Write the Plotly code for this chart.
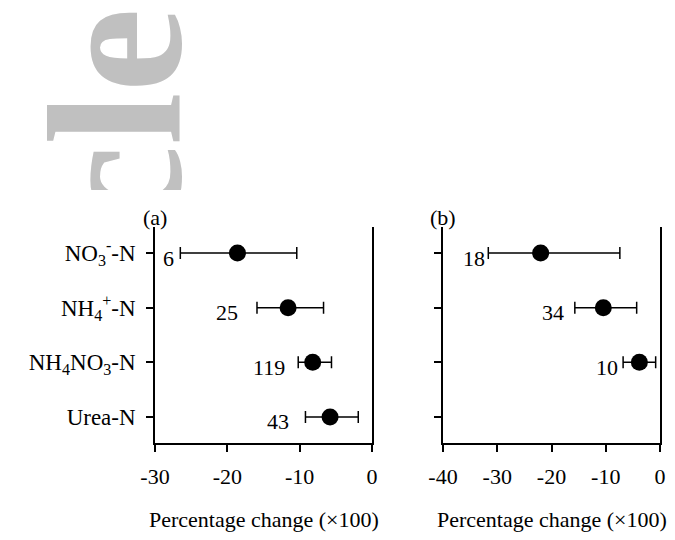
import plotly.graph_objects as go

categories = ["NO<sub>3</sub><sup>-</sup>-N", "NH<sub>4</sub><sup>+</sup>-N",
              "NH<sub>4</sub>NO<sub>3</sub>-N", "Urea-N"]

# Panel (a)
a_mean = [-18.6, -11.6, -8.2, -5.8]
a_low = [-26.5, -15.9, -10.2, -9.2]
a_high = [-10.4, -6.7, -5.6, -1.9]
a_n = ["6", "25", "119", "43"]
a_n_x = [-28.2, -20.1, -14.3, -12.95]

# Panel (b)
b_mean = [-22.0, -10.45, -3.8]
b_low = [-31.65, -15.7, -6.8]
b_high = [-7.4, -4.3, -0.8]
b_n = ["18", "34", "10"]
b_n_x = [-34.3, -19.8, -9.7]

a_ticks = [-30, -20, -10, 0]
b_ticks = [-40, -30, -20, -10, 0]
a_ticktext = ["-30", "-20", "-10", "0"]
b_ticktext = ["-40", "-30", "-20", "-10", "0"]

FONT = "Liberation Serif"
rows = list(range(len(categories)))

fig = go.Figure()

def add_panel(mean, low, high, xa, ya):
    ys = rows[:len(mean)]
    fig.add_trace(go.Scatter(
        x=mean, y=ys, mode="markers",
        marker=dict(size=17, color="black"),
        error_x=dict(type="data", symmetric=False,
                     array=[h - m for h, m in zip(high, mean)],
                     arrayminus=[m - l for m, l in zip(mean, low)],
                     color="black", thickness=1.5, width=6),
        xaxis=xa, yaxis=ya, showlegend=False, hoverinfo="skip"))

add_panel(a_mean, a_low, a_high, "x", "y")
add_panel(b_mean, b_low, b_high, "x2", "y2")

annotations = []
for txt, xv, r in zip(a_n, a_n_x, rows):
    annotations.append(dict(x=xv, y=r, xref="x", yref="y", text=txt, showarrow=False,
                            yshift=-5, font=dict(family=FONT, size=22, color="black")))
for txt, xv, r in zip(b_n, b_n_x, rows):
    annotations.append(dict(x=xv, y=r, xref="x2", yref="y2", text=txt, showarrow=False,
                            yshift=-5, font=dict(family=FONT, size=22, color="black")))

# panel letters
for txt, xp in [("(a)", 155 / 675), ("(b)", 443 / 675)]:
    annotations.append(dict(x=xp, y=1 - 218 / 540, xref="paper", yref="paper", text=txt,
                            showarrow=False, xanchor="center", yanchor="middle",
                            font=dict(family=FONT, size=22, color="black")))
# axis titles
for xp in [(155 + 372) / 2 / 675, (443 + 660) / 2 / 675]:
    annotations.append(dict(x=xp, y=1 - 519 / 540, xref="paper", yref="paper",
                            text="Percentage change (×100)", showarrow=False,
                            xanchor="center", yanchor="middle",
                            font=dict(family=FONT, size=22, color="black")))

# watermark
annotations.append(dict(x=268 / 675, y=1 - 6 / 540, xref="paper", yref="paper",
                        text="<b>cle</b>", textangle=-90, showarrow=False,
                        xanchor="right", yanchor="top", align="right",
                        width=182, height=300,
                        font=dict(family=FONT, size=190, color="#c0c0c0")))

yrange = [3.476, -0.476]
axis_common = dict(showline=True, linecolor="black", linewidth=1.6, ticks="outside",
                   ticklen=7, tickwidth=1.6, tickcolor="black", showgrid=False,
                   zeroline=False, automargin=False,
                   tickfont=dict(family=FONT, size=22, color="black"))

fig.update_layout(
    template="none",
    width=675, height=540, margin=dict(l=0, r=0, t=0, b=0, autoexpand=False),
    paper_bgcolor="white", plot_bgcolor="white",
    xaxis=dict(domain=[155 / 675, 372 / 675], range=[-30, 0], tickvals=a_ticks,
               ticktext=a_ticktext, anchor="y", ticklabelstandoff=6, **axis_common),
    yaxis=dict(domain=[1 - 443 / 540, 1 - 227 / 540], range=yrange, tickvals=rows,
               ticktext=categories, anchor="x", mirror=True, ticklabelstandoff=6,
               **{**axis_common, "tickfont": dict(family=FONT, size=23, color="black")}),
    xaxis2=dict(domain=[443 / 675, 660 / 675], range=[-40, 0], tickvals=b_ticks,
                ticktext=b_ticktext, anchor="y2", ticklabelstandoff=6, **axis_common),
    yaxis2=dict(domain=[1 - 443 / 540, 1 - 227 / 540], range=yrange, tickvals=rows,
                showticklabels=False, anchor="x2", mirror=True, **axis_common),
    annotations=annotations,
)

fig.write_html("out.html", config={"displayModeBar": False},
               post_script="document.body.style.margin='0';document.body.style.overflow='hidden';")
